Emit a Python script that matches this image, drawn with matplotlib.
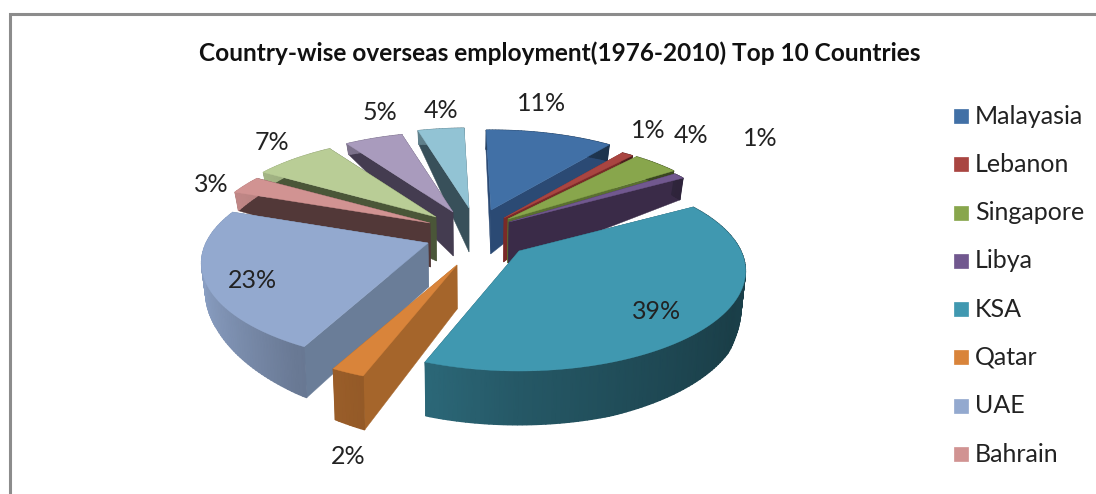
import numpy as np
import matplotlib
matplotlib.use('Agg')
import matplotlib.pyplot as plt
from matplotlib.colors import to_rgb

# 各国占比(%)
countries = ['Malayasia', 'Lebanon', 'Singapore', 'Libya', 'KSA', 'Qatar', 'UAE', 'Bahrain', 'Oman', 'Kuwait', 'Others']
shares = [11, 1, 4, 1, 39, 2, 23, 3, 7, 5, 4]
legend_count = 8

top_colors = ['#4170a6', '#a94541', '#88a64c', '#71588f', '#4098b0', '#d9843a', '#93a9cf', '#d19392', '#b9cd96', '#a99bbd', '#92c3d4']
wall_colors = ['#2b4a74', '#7a2a28', '#5a7030', '#3a2b48', '#1f4d5a', '#a5652b', '#6a7d98', '#523838', '#4a5638', '#443c50', '#38505a']

# 每块的尖点位置(像素), 分离效果
tips = [(491, 210), (504, 218), (508, 219), (509, 222), (519, 251), (457, 265),
        (428, 243), (430, 223), (436, 217), (453, 212), (469, 208)]
label_pos = [(542, 103), (648, 130), (691, 135), (760, 138), (657, 311), (348, 456),
             (252, 280), (211, 184), (272, 142), (380, 112), (441, 110)]
draw_order = [0, 1, 2, 3, 10, 9, 8, 7, 6, 5, 4]

RX, RY, PERSP = 222.0, 96.0, 0.2
ROTATION = -1.5
SHRINK_X0, SHRINK = 470.0, 0.985
TIP_DEPTH = 44.0

# 外沿厚度随角度变化(透视)
depth_theta = [0, 37, 60, 75, 90, 120, 160, 200, 210, 240, 270, 292, 300, 320, 345, 360]
depth_px = [20, 16, 22, 18, 24, 48, 54, 54, 50, 35, 25, 18, 16, 10, 14, 20]


def rim_point(tip, theta):
    # theta为顺时针角度, 0朝上(远处), 近大远小
    t = np.radians(theta)
    s = 1.0 / (1.0 + PERSP * np.cos(t))
    return tip[0] + RX * np.sin(t) * s, tip[1] - RY * np.cos(t) * s


def drop(p, depth):
    # 顶面上的点对应到底面
    return SHRINK_X0 + (p[0] - SHRINK_X0) * SHRINK, p[1] + depth


def rim_depth(theta):
    return np.interp(theta % 360, depth_theta, depth_px)


def shade(color, theta):
    f = np.interp(np.sin(np.radians(theta)), [-1.0, -0.5, -0.3, 0.0, 0.87, 1.0], [0.95, 0.72, 0.67, 0.58, 0.41, 0.42])
    return [c * f for c in to_rgb(color)]


def draw_slice(ax, i, a0, a1):
    tip = tips[i]
    thetas = np.linspace(a0, a1, max(int(a1 - a0) + 2, 3))
    rim = [rim_point(tip, t) for t in thetas]
    low = [drop(p, rim_depth(t)) for p, t in zip(rim, thetas)]
    tip_low = drop(tip, TIP_DEPTH)

    # 两个切面
    for p, q in ((rim[0], low[0]), (rim[-1], low[-1])):
        ax.fill(*zip(tip, p, q, tip_low), color=wall_colors[i], lw=0.3, zorder=2)

    # 外侧弧面, 渐变
    X = np.array([[p[0] for p in rim], [p[0] for p in low]])
    Y = np.array([[p[1] for p in rim], [p[1] for p in low]])
    C = np.array([[shade(top_colors[i], t) for t in thetas]] * 2)
    ax.pcolormesh(X, Y, C, shading='gouraud', zorder=2)

    # 顶面
    ax.fill(*zip(*([tip] + rim)), color=top_colors[i], lw=0.3, zorder=2)


plt.rcParams['font.family'] = ['Lato', 'DejaVu Sans']

fig = plt.figure(figsize=(10.96, 4.94), dpi=100)
ax = fig.add_axes([0, 0, 1, 1])
ax.set_xlim(0, 1096)
ax.set_ylim(494, 0)
ax.axis('off')

# 外框, 右侧和下方没有边
ax.plot([9.8, 9.8, 1096], [494, 14, 14], color='#8c8c8c', lw=2.2, zorder=1, solid_joinstyle='miter')

ax.text(560, 53, 'Country-wise overseas employment(1976-2010) Top 10 Countries',
        ha='center', va='center', fontsize=17.6, fontweight='bold', color='#111111')

edges = np.cumsum([0] + shares) / sum(shares) * 360.0 + ROTATION
for i in draw_order:
    draw_slice(ax, i, edges[i], edges[i + 1])

for i, v in enumerate(shares):
    ax.text(label_pos[i][0], label_pos[i][1], '{0}%'.format(v), ha='center', va='center',
            fontsize=18, color='#222222', zorder=5)

# 图例
legend_y = np.linspace(116, 454, legend_count)
for i in range(legend_count):
    ax.fill([954, 968, 968, 954], [legend_y[i] - 7, legend_y[i] - 7, legend_y[i] + 7, legend_y[i] + 7],
            color=top_colors[i], lw=0.5, zorder=3)
    ax.text(975, legend_y[i], countries[i], ha='left', va='center', fontsize=18, color='#222222')

fig.savefig('out.png', dpi=100)
